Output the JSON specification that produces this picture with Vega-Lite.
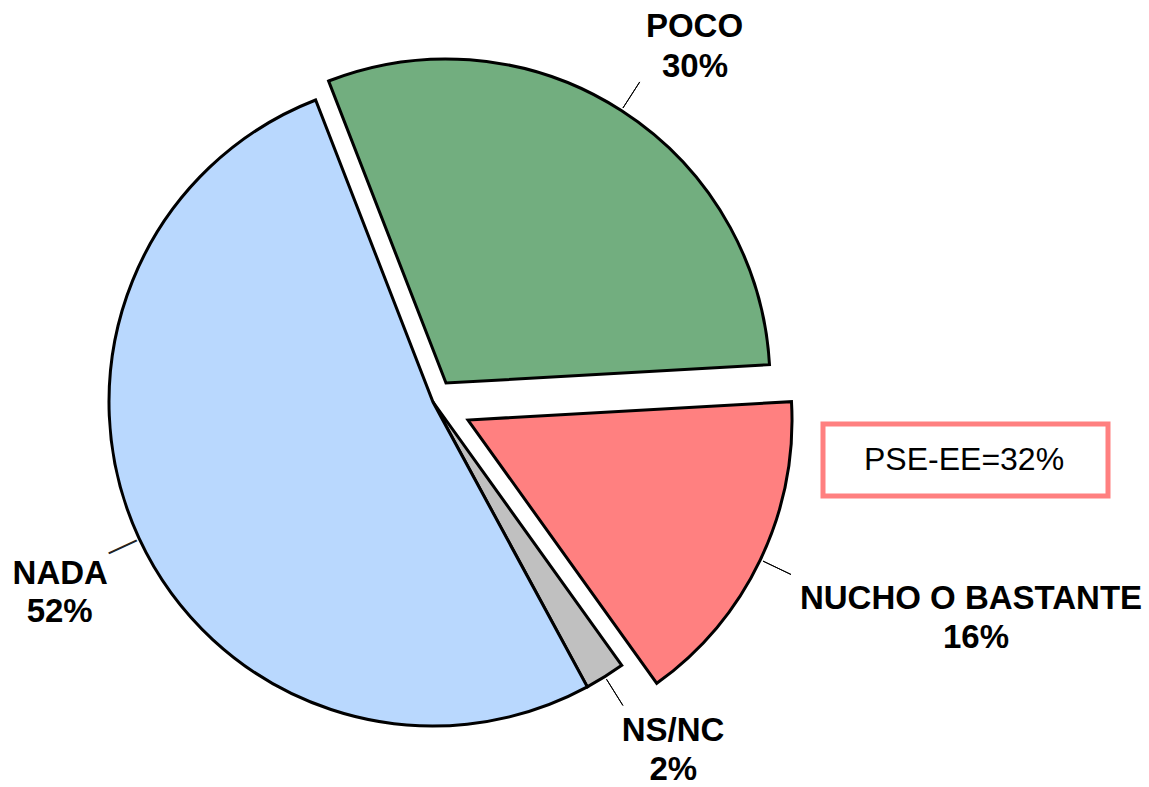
{
  "$schema": "https://vega.github.io/schema/vega-lite/v6.json",
  "autosize": "none",
  "width": 866,
  "height": 770,
  "padding": {"left": 0, "top": 17, "right": 283, "bottom": 0},
  "background": "white",
  "config": {"view": {"stroke": null}, "font": "Liberation Sans", "legend": {"strokeWidth": 5}},
  "datasets": {
    "answers": [
      {"category": "POCO", "value": 0.30, "order": 1},
      {"category": "NUCHO O BASTANTE", "value": 0.16, "order": 2},
      {"category": "NS/NC", "value": 0.02, "order": 3},
      {"category": "NADA", "value": 0.52, "order": 4}
    ],
    "notes": [{"note": "PSE-EE=32%"}]
  },
  "layer": [
    {
      "data": {"name": "answers"},
      "encoding": {
        "theta": {"field": "value", "type": "quantitative", "stack": true, "scale": {"domain": [0, 1], "range": [-0.3707, 5.9125]}},
        "order": {"field": "order", "type": "quantitative"},
        "detail": {"field": "category", "type": "nominal"}
      },
      "layer": [
        {
          "mark": {"type": "arc", "radius": 324, "stroke": "black", "strokeWidth": 3},
          "encoding": {
            "color": {"field": "category", "type": "nominal", "scale": {"domain": ["POCO", "NUCHO O BASTANTE", "NS/NC", "NADA"], "range": ["#72ae7f", "#ff8080", "#c0c0c0", "#b9d8fe"]}, "legend": null},
            "opacity": {"condition": {"test": "datum.category === 'NADA' || datum.category === 'NS/NC'", "value": 1}, "value": 0}
          }
        },
        {
          "mark": {"type": "arc", "radius": 324, "stroke": "black", "strokeWidth": 3, "xOffset": 13, "yOffset": -19},
          "encoding": {
            "color": {"field": "category", "type": "nominal", "legend": null},
            "opacity": {"condition": {"test": "datum.category === 'POCO'", "value": 1}, "value": 0}
          }
        },
        {
          "mark": {"type": "arc", "radius": 324, "stroke": "black", "strokeWidth": 3, "xOffset": 35, "yOffset": 18},
          "encoding": {
            "color": {"field": "category", "type": "nominal", "legend": null},
            "opacity": {"condition": {"test": "datum.category === 'NUCHO O BASTANTE'", "value": 1}, "value": 0}
          }
        },
        {
          "mark": {"type": "arc", "radius": 358, "radius2": 327, "padAngle": 3, "filled": false, "stroke": "black", "strokeWidth": 1},
          "encoding": {
            "strokeOpacity": {"condition": {"test": "datum.category === 'NS/NC'", "value": 1}, "value": 0}
          }
        },
        {
          "mark": {"type": "arc", "radius": 358, "radius2": 327, "padAngle": 3, "filled": false, "stroke": "black", "strokeWidth": 1, "xOffset": 13, "yOffset": -19},
          "encoding": {
            "strokeOpacity": {"condition": {"test": "datum.category === 'POCO'", "value": 1}, "value": 0}
          }
        },
        {
          "mark": {"type": "arc", "radius": 358, "radius2": 327, "padAngle": 3, "filled": false, "stroke": "black", "strokeWidth": 1, "xOffset": 35, "yOffset": 18},
          "encoding": {
            "strokeOpacity": {"condition": {"test": "datum.category === 'NUCHO O BASTANTE'", "value": 1}, "value": 0}
          }
        },
        {
          "mark": {"type": "text", "radius": 342.5, "angle": -24.84, "fontSize": 31, "align": "center", "baseline": "middle", "color": "#222222"},
          "encoding": {
            "text": {"value": "—"},
            "opacity": {"condition": {"test": "datum.category === 'NADA'", "value": 1}, "value": 0}
          }
        },
        {
          "mark": {"type": "text", "radius": 440, "dx": 23.4, "dy": -4.7, "fontSize": 33, "fontWeight": "bold", "align": "center", "baseline": "middle", "color": "black"},
          "encoding": {
            "text": {"field": "category", "type": "nominal"},
            "opacity": {"condition": {"test": "datum.category === 'POCO'", "value": 1}, "value": 0}
          }
        },
        {
          "mark": {"type": "text", "radius": 440, "dx": 23.9, "dy": 34.8, "fontSize": 33, "fontWeight": "bold", "align": "center", "baseline": "middle", "color": "black"},
          "encoding": {
            "text": {"field": "value", "type": "quantitative", "format": ".0%"},
            "opacity": {"condition": {"test": "datum.category === 'POCO'", "value": 1}, "value": 0}
          }
        },
        {
          "mark": {"type": "text", "radius": 560, "dx": 32.8, "dy": -45.1, "fontSize": 33, "fontWeight": "bold", "align": "center", "baseline": "middle", "color": "black"},
          "encoding": {
            "text": {"field": "category", "type": "nominal"},
            "opacity": {"condition": {"test": "datum.category === 'NUCHO O BASTANTE'", "value": 1}, "value": 0}
          }
        },
        {
          "mark": {"type": "text", "radius": 560, "dx": 37.8, "dy": -5.3, "fontSize": 33, "fontWeight": "bold", "align": "center", "baseline": "middle", "color": "black"},
          "encoding": {
            "text": {"field": "value", "type": "quantitative", "format": ".0%"},
            "opacity": {"condition": {"test": "datum.category === 'NUCHO O BASTANTE'", "value": 1}, "value": 0}
          }
        },
        {
          "mark": {"type": "text", "radius": 423, "dx": 15.6, "dy": -29.8, "fontSize": 33, "fontWeight": "bold", "align": "center", "baseline": "middle", "color": "black"},
          "encoding": {
            "text": {"field": "category", "type": "nominal"},
            "opacity": {"condition": {"test": "datum.category === 'NS/NC'", "value": 1}, "value": 0}
          }
        },
        {
          "mark": {"type": "text", "radius": 423, "dx": 15.9, "dy": 9.5, "fontSize": 33, "fontWeight": "bold", "align": "center", "baseline": "middle", "color": "black"},
          "encoding": {
            "text": {"field": "value", "type": "quantitative", "format": ".0%"},
            "opacity": {"condition": {"test": "datum.category === 'NS/NC'", "value": 1}, "value": 0}
          }
        },
        {
          "mark": {"type": "text", "radius": 419, "dx": 7.5, "dy": -4.5, "fontSize": 33, "fontWeight": "bold", "align": "center", "baseline": "middle", "color": "black"},
          "encoding": {
            "text": {"field": "category", "type": "nominal"},
            "opacity": {"condition": {"test": "datum.category === 'NADA'", "value": 1}, "value": 0}
          }
        },
        {
          "mark": {"type": "text", "radius": 419, "dx": 6.9, "dy": 33.8, "fontSize": 33, "fontWeight": "bold", "align": "center", "baseline": "middle", "color": "black"},
          "encoding": {
            "text": {"field": "value", "type": "quantitative", "format": ".0%"},
            "opacity": {"condition": {"test": "datum.category === 'NADA'", "value": 1}, "value": 0}
          }
        }
      ]
    },
    {
      "data": {"name": "notes"},
      "mark": {"type": "point", "opacity": 0},
      "encoding": {
        "shape": {
          "field": "note",
          "type": "nominal",
          "legend": {
            "title": null,
            "orient": "none",
            "legendX": 823,
            "legendY": 407,
            "padding": 20,
            "fillColor": "white",
            "strokeColor": "#ff8080",
            "labelFont": "Liberation Sans",
            "labelFontSize": 32,
            "labelColor": "black",
            "labelLimit": 500,
            "labelOffset": -11,
            "symbolSize": 0,
            "symbolOpacity": 0,
            "symbolStrokeWidth": 0,
            "labelExpr": "datum.label + '\u2800'"
          }
        }
      }
    }
  ]
}
